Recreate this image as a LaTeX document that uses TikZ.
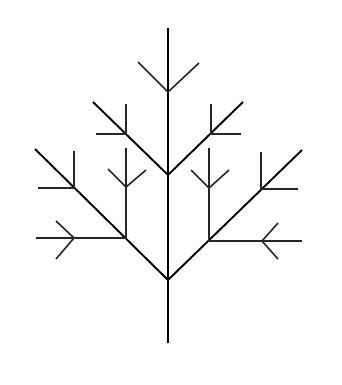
\documentclass[tikz,border=0pt]{standalone}
\usepackage{tikz}
\usetikzlibrary{calc}
\tikzset{
  limb/.style={draw=black,line width=1.9pt},
  twig/.style={draw=black!85,line width=1.6pt}
}

\begin{document}
\begin{tikzpicture}[x=1pt,y=-1pt]
\useasboundingbox (0,0) rectangle (342,385);

% trunk and forks
\coordinate (top) at (168,28);
\coordinate (foot) at (168,343);
\coordinate (fork1) at (168,280);
\coordinate (fork2) at (168,175);
\coordinate (fork3) at (168,92);
\draw[limb] (foot) -- (top);

% top twig
\draw[twig] (138,62) -- (fork3) -- (199,63);

% upper pair
\coordinate (ul) at (93,102);
\coordinate (ur) at (243,102);
\draw[limb] (ul) -- (fork2) -- (ur);
\coordinate (un1) at (126,134);
\coordinate (un2) at (211,134);
\draw[twig] (126,104) -- (un1) -- (96,134);
\draw[twig] (211,104) -- (un2) -- (241,134);

% lower pair
\coordinate (ll) at (35,149);
\coordinate (lr) at (302,150);
\draw[limb] (ll) -- (fork1) -- (lr);

% left side
\coordinate (la) at (126,238);
\coordinate (lb) at (74,188);
\coordinate (lc) at (126,187);
\coordinate (ld) at (74,238);
\draw[twig] (126,148) -- (la) -- (36,238);
\draw[twig] (108,169) -- (lc) -- (146,170);
\draw[twig] (56,221) -- (ld) -- (56,259);
\draw[twig] (74,151) -- (lb) -- (38,188);

% right side
\coordinate (ra) at (209,241);
\coordinate (rb) at (261,189);
\coordinate (rc) at (209,188);
\coordinate (rd) at (262,241);
\draw[twig] (209,148) -- (ra) -- (302,241);
\draw[twig] (191,170) -- (rc) -- (229,170);
\draw[twig] (278,223) -- (rd) -- (278,259);
\draw[twig] (261,152) -- (rb) -- (298,189);

\end{tikzpicture}
\end{document}
